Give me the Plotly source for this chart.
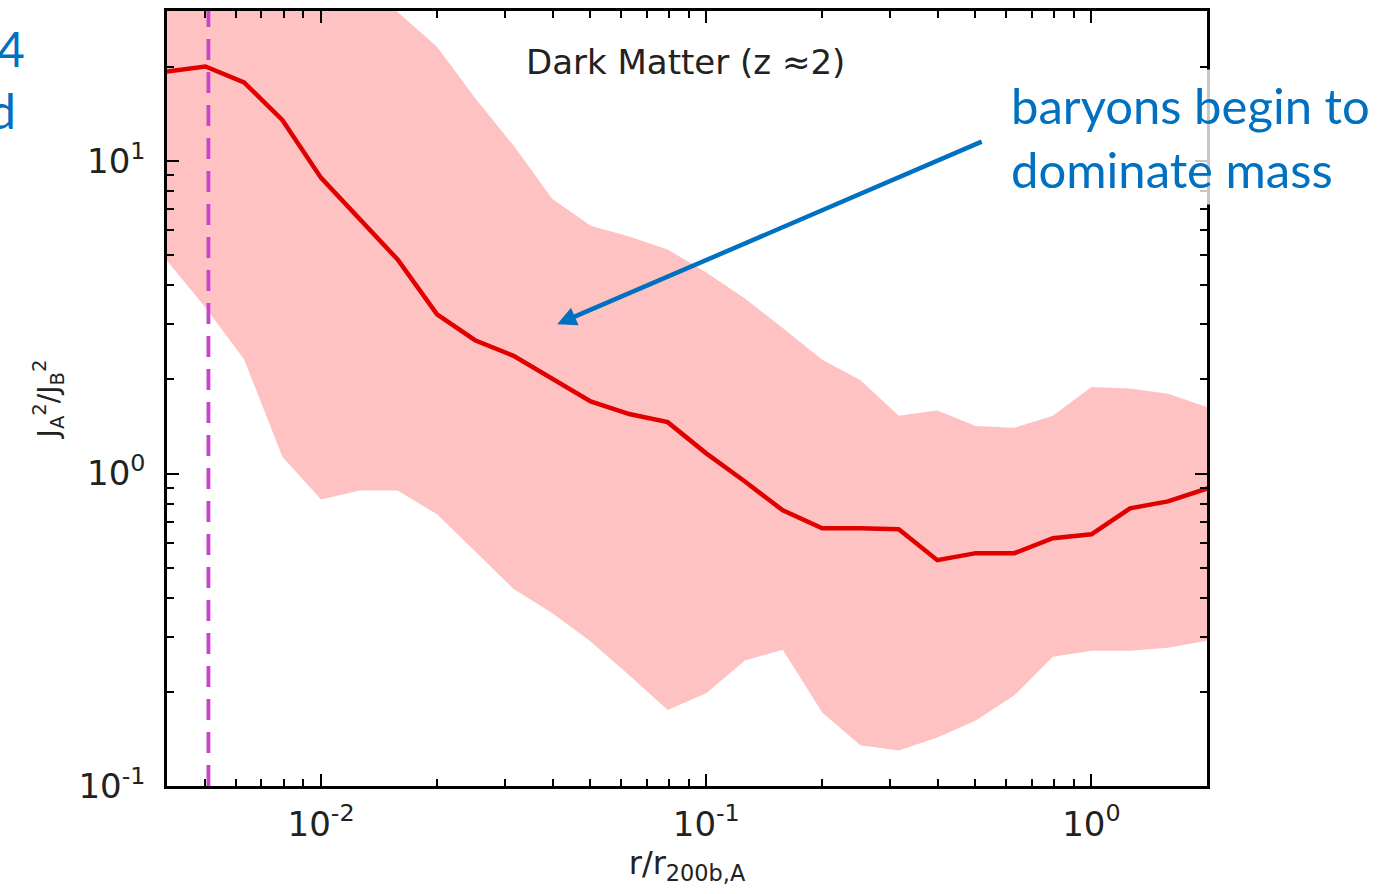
import plotly.graph_objects as go

# radius r / r_200b,A
r = [0.00398, 0.00501, 0.00631, 0.00794, 0.0100, 0.0126, 0.0158, 0.0200, 0.0251, 0.0316,
     0.0398, 0.0501, 0.0631, 0.0794, 0.100, 0.126, 0.158, 0.200, 0.251, 0.316,
     0.398, 0.501, 0.631, 0.794, 1.00, 1.26, 1.58, 2.00]

# median J_A^2 / J_B^2
median = [19.35, 20.07, 17.85, 13.51, 8.83, 6.49, 4.84, 3.23, 2.67, 2.38,
          2.02, 1.70, 1.55, 1.46, 1.16, 0.943, 0.762, 0.668, 0.668, 0.663,
          0.528, 0.556, 0.556, 0.621, 0.639, 0.774, 0.814, 0.896]

# scatter band
upper = [60, 58, 55, 50, 44, 37, 30.0, 23.2, 15.9, 11.2,
         7.57, 6.21, 5.73, 5.21, 4.40, 3.63, 2.92, 2.31, 1.99, 1.53,
         1.59, 1.42, 1.40, 1.53, 1.89, 1.87, 1.80, 1.63]
lower = [4.80, 3.40, 2.32, 1.13, 0.826, 0.883, 0.883, 0.740, 0.564, 0.427,
         0.358, 0.290, 0.226, 0.175, 0.198, 0.252, 0.273, 0.172, 0.135, 0.130,
         0.143, 0.162, 0.195, 0.259, 0.271, 0.271, 0.277, 0.292]

r_resolution = 0.0051

x_major = [0.01, 0.1, 1.0]
x_major_text = ["10<sup>-2</sup>", "10<sup>-1</sup>", "10<sup>0</sup>"]
x_minor = [0.005, 0.006, 0.007, 0.008, 0.009,
           0.02, 0.03, 0.04, 0.05, 0.06, 0.07, 0.08, 0.09,
           0.2, 0.3, 0.4, 0.5, 0.6, 0.7, 0.8, 0.9, 2.0]
y_major = [0.1, 1.0, 10.0]
y_major_text = ["10<sup>-1</sup>", "10<sup>0</sup>", "10<sup>1</sup>"]
y_minor = [0.2, 0.3, 0.4, 0.5, 0.6, 0.7, 0.8, 0.9,
           2, 3, 4, 5, 6, 7, 8, 9, 20, 30]

FONT = "DejaVu Sans"
BLUE = "#0070C0"

fig = go.Figure()
fig.add_trace(go.Scatter(x=r, y=upper, mode="lines", line=dict(width=0, color="rgba(0,0,0,0)"),
                         showlegend=False, hoverinfo="skip"))
fig.add_trace(go.Scatter(x=r, y=lower, mode="lines", line=dict(width=0, color="rgba(0,0,0,0)"),
                         fill="tonexty", fillcolor="#FFC2C2", showlegend=False, hoverinfo="skip"))
fig.add_trace(go.Scatter(x=r, y=median, mode="lines", line=dict(color="#E00000", width=4.5),
                         showlegend=False))
fig.add_trace(go.Scatter(x=[r_resolution, r_resolution], y=[0.1, 31], mode="lines",
                         line=dict(color="#C844CC", width=3.8, dash="21px,12px"), showlegend=False))

axis_common = dict(
    showgrid=False, zeroline=False, showline=True, linecolor="black", linewidth=2.5,
    mirror="allticks", ticks="inside", ticklen=12, tickwidth=2, tickcolor="black",
    tickfont=dict(family=FONT, size=34, color="#222222"),
)

fig.update_xaxes(type="log", range=[-2.4, 0.3], tickmode="array", tickvals=x_major,
                 ticktext=x_major_text, ticklabelstandoff=6,
                 minor=dict(ticks="inside", ticklen=7, tickwidth=1.5, tickcolor="black",
                            tickmode="array", tickvals=x_minor, showgrid=False),
                 title=dict(text="r/r<sub>200b,A</sub>", font=dict(family=FONT, size=32, color="#222222"),
                            standoff=10),
                 **axis_common)
fig.update_yaxes(type="log", range=[-1, 1.48], tickmode="array", tickvals=y_major,
                 ticktext=y_major_text, ticklabelstandoff=12,
                 minor=dict(ticks="inside", ticklen=7, tickwidth=1.5, tickcolor="black",
                            tickmode="array", tickvals=y_minor, showgrid=False),
                 title=dict(text="J<sub>A</sub><sup>2</sup>/J<sub>B</sub><sup>2</sup>",
                            font=dict(family=FONT, size=28, color="#222222"), standoff=12),
                 **axis_common)

fig.add_annotation(text="Dark Matter (z ≈2)", xref="paper", yref="paper", x=0.4985, y=0.934,
                   xanchor="center", yanchor="middle", showarrow=False,
                   font=dict(family=FONT, size=34, color="#222222"))

# arrow (head / tail in log10 units of the axes)
fig.add_annotation(x=-1.387, y=0.478, ax=-0.281, ay=1.064, xref="x", yref="y", axref="x", ayref="y",
                   text="", showarrow=True, arrowhead=2, arrowsize=0.85, arrowwidth=4.5,
                   arrowcolor=BLUE, standoff=0)

fig.add_annotation(text="baryons begin to<br>dominate mass", xref="paper", yref="paper",
                   x=0.8045, y=0.838, xanchor="left", yanchor="middle", align="left",
                   showarrow=False, bgcolor="rgba(255,255,255,0.78)", borderpad=6,
                   font=dict(family="Lato", size=49, color=BLUE))

fig.add_annotation(text="4", xref="paper", yref="paper", x=-0.1346, y=0.952,
                   xanchor="right", yanchor="middle", showarrow=False,
                   font=dict(family="Lato", size=48, color=BLUE))
fig.add_annotation(text="d", xref="paper", yref="paper", x=-0.1433, y=0.871,
                   xanchor="right", yanchor="middle", showarrow=False,
                   font=dict(family="Lato", size=48, color=BLUE))

fig.update_layout(width=1377, height=894, margin=dict(l=167, r=170, t=8, b=108),
                  plot_bgcolor="white", paper_bgcolor="white", showlegend=False)

fig.write_html("out.html")
